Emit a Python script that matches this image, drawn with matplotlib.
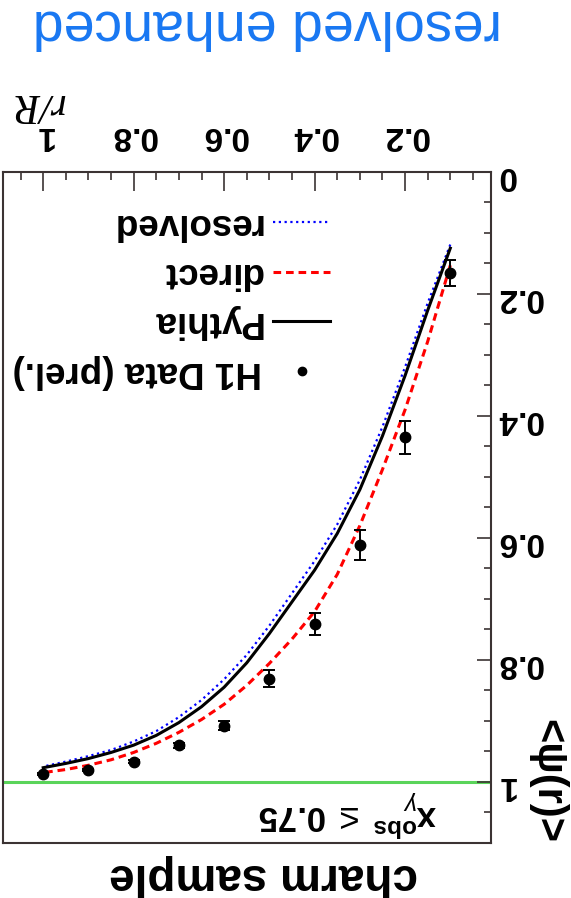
import matplotlib
matplotlib.use('Agg')
import matplotlib.pyplot as plt
from matplotlib.ticker import MultipleLocator, FixedLocator, FuncFormatter

plt.rcParams['font.family'] = ['Liberation Sans', 'DejaVu Sans']
plt.rcParams['mathtext.fontset'] = 'custom'
plt.rcParams['mathtext.rm'] = 'Liberation Sans'
plt.rcParams['mathtext.bf'] = 'Liberation Sans:bold'
plt.rcParams['mathtext.it'] = 'Liberation Sans:italic'

# ---- data ----
r_data = [0.1, 0.2, 0.3, 0.4, 0.5, 0.6, 0.7, 0.8, 0.9, 1.0]
psi_data = [0.166, 0.435, 0.612, 0.741, 0.831, 0.908, 0.940, 0.967, 0.981, 0.987]
psi_err = [0.021, 0.027, 0.025, 0.018, 0.014, 0.007, 0.004, 0.003, 0.002, 0.002]

r_mc = [0.1, 0.15, 0.2, 0.25, 0.3, 0.35, 0.4, 0.45, 0.5, 0.55, 0.6, 0.65, 0.7, 0.75, 0.8, 0.85, 0.9, 0.95, 1.0]
pythia = [0.125, 0.227, 0.334, 0.433, 0.521, 0.593, 0.653, 0.705, 0.757, 0.805, 0.845, 0.877, 0.903,
          0.924, 0.940, 0.952, 0.962, 0.970, 0.977]
direct = [0.153, 0.278, 0.390, 0.488, 0.580, 0.660, 0.721, 0.766, 0.806, 0.842, 0.873, 0.898, 0.919,
          0.937, 0.952, 0.964, 0.973, 0.980, 0.985]
resolved = [0.119, 0.215, 0.320, 0.418, 0.505, 0.578, 0.638, 0.691, 0.744, 0.792, 0.832, 0.866, 0.894,
            0.917, 0.934, 0.948, 0.958, 0.967, 0.975]

x_ticks = [0.2, 0.4, 0.6, 0.8, 1.0]
y_ticks = [0.0, 0.2, 0.4, 0.6, 0.8, 1.0]
legend_labels = ['resolved', 'direct', 'Pythia', 'H1 Data (prel.)']

W, H = 571, 898
fig = plt.figure(figsize=(W / 100, H / 100), dpi=100)

def fx(px):
    return px / W

def fy(py):
    return 1 - py / H

ax_l, ax_r, ax_t, ax_b = 2.5, 491, 172, 842.7
ax = fig.add_axes([fx(ax_l), fy(ax_b), (ax_r - ax_l) / W, (ax_b - ax_t) / H])

# whole picture is upside down: invert both axes
ax.set_xlim(1.09, 0.01)
ax.set_ylim(1.1, 0.0)

ax.axhline(1.0, color='#5ad45a', lw=2.2, zorder=1)

ax.plot(r_mc, resolved, color='#0000ff', lw=1.6, dashes=[1, 1.6], zorder=3)
ax.plot(r_mc, direct, color='#ff0000', lw=2.2, dashes=[2.5, 1.6], zorder=3)
ax.plot(r_mc, pythia, color='black', lw=2.2, zorder=4)
ax.errorbar(r_data, psi_data, yerr=psi_err, fmt='o', color='black', ms=7.5,
            elinewidth=1.4, capsize=4.5, capthick=1.4, zorder=5)

for s in ax.spines.values():
    s.set_color('#3b3333')
    s.set_linewidth(1.5)

ax.xaxis.set_ticks_position('top')
ax.yaxis.set_ticks_position('right')
ax.xaxis.set_major_locator(FixedLocator(x_ticks))
ax.yaxis.set_major_locator(FixedLocator(y_ticks))
ax.xaxis.set_minor_locator(MultipleLocator(0.05))
ax.yaxis.set_minor_locator(MultipleLocator(0.05))
fmt = FuncFormatter(lambda v, p: f'{v:g}')
ax.xaxis.set_major_formatter(fmt)
ax.yaxis.set_major_formatter(fmt)
ax.tick_params(axis='x', which='major', direction='in', length=13.5, width=1.2,
               labelsize=24, pad=15, labelrotation=180, color='#3b3333')
ax.tick_params(axis='x', which='minor', direction='in', length=6, width=1.2, color='#3b3333')
ax.tick_params(axis='y', which='major', direction='in', length=10, width=1.2,
               labelsize=24, pad=4, labelrotation=180, color='#3b3333')
ax.tick_params(axis='y', which='minor', direction='in', length=5, width=1.2, color='#3b3333')
for t in ax.get_xticklabels() + ax.get_yticklabels():
    t.set_fontweight('bold')

# axis titles
fig.text(fx(38), fy(104), 'r/R', family=['Liberation Serif'], style='italic',
         fontsize=30, rotation=180, ha='center', va='center')
fig.text(fx(547), fy(843), '<ψ(r)>', fontsize=30, fontweight='bold',
         rotation=-90, ha='center', va='bottom')

# title and caption
fig.text(fx(267), fy(11), 'resolved enhanced', color='#1877f2', fontsize=40,
         rotation=180, rotation_mode='anchor', ha='center', va='baseline')
fig.text(fx(264), fy(864), 'charm sample', fontsize=33, fontweight='bold',
         rotation=180, rotation_mode='anchor', ha='center', va='baseline')
fig.text(fx(347), fy(813), r'$\mathbf{x}_{\gamma}^{\mathbf{obs}}\;\leq\;\mathbf{0.75}$',
         fontsize=25, rotation=180, ha='center', va='center')

# legend (drawn upside down)
leg_base = [214, 263, 312, 362]
leg_mid = [222, 271.7, 321, 371]
for lab, yb in zip(legend_labels, leg_base):
    fig.text(fx(262), fy(yb), lab, fontsize=26.5, fontweight='bold', rotation=180,
             rotation_mode='anchor', ha='left', va='baseline')
fig.add_artist(plt.Line2D([fx(273), fx(330)], [fy(leg_mid[0])] * 2, color='#0000ff', lw=1.6, dashes=[1, 1.6]))
fig.add_artist(plt.Line2D([fx(273), fx(330)], [fy(leg_mid[1])] * 2, color='#ff0000', lw=2.2, dashes=[2.5, 1.6]))
fig.add_artist(plt.Line2D([fx(273), fx(330)], [fy(leg_mid[2])] * 2, color='black', lw=2.2))
fig.add_artist(plt.Line2D([fx(301.7)], [fy(leg_mid[3])], color='black', marker='o', ms=6, lw=0))

fig.savefig('out.png', dpi=100)
